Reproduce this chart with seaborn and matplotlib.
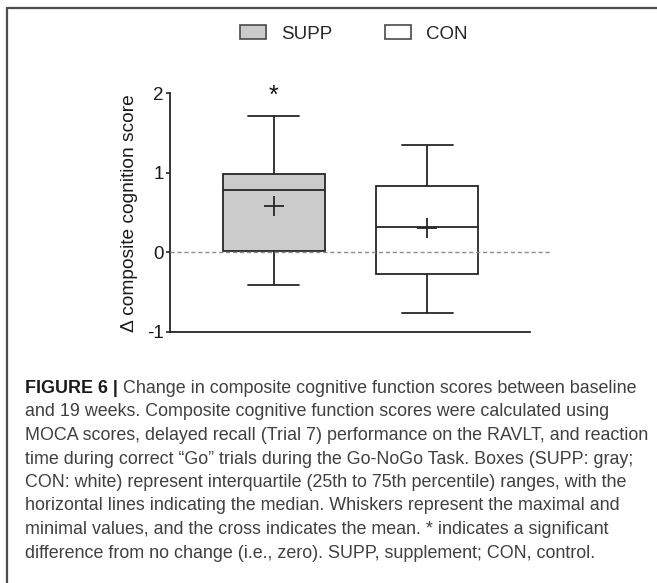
import matplotlib
matplotlib.use("Agg")
import matplotlib.pyplot as plt
from matplotlib.lines import Line2D
from matplotlib.patches import Patch
import numpy as np
import pandas as pd
import seaborn as sns

# ---- data ----
groups = ["SUPP", "CON"]
mins = [-0.41, -0.76]
q1s = [0.02, -0.27]
medians = [0.78, 0.32]
q3s = [0.99, 0.83]
maxs = [1.71, 1.35]
means = [0.585, 0.31]
sig_marks = ["*", ""]
box_colors = ["#cbcbcb", "#ffffff"]
yticks = [-1, 0, 1, 2]
ylabel = "Δ composite cognition score"
caption_bold = "FIGURE 6 |"
caption_lines = [
    " Change in composite cognitive function scores between baseline",
    "and 19 weeks. Composite cognitive function scores were calculated using",
    "MOCA scores, delayed recall (Trial 7) performance on the RAVLT, and reaction",
    "time during correct \u201cGo\u201d trials during the Go-NoGo Task. Boxes (SUPP: gray;",
    "CON: white) represent interquartile (25th to 75th percentile) ranges, with the",
    "horizontal lines indicating the median. Whiskers represent the maximal and",
    "minimal values, and the cross indicates the mean. * indicates a significant",
    "difference from no change (i.e., zero). SUPP, supplement; CON, control.",
]

sns.set_style("ticks")
plt.rcParams["font.family"] = ["Liberation Sans", "DejaVu Sans"]

W, H = 657, 583
fig = plt.figure(figsize=(W / 100, H / 100), dpi=100)

# five-number summary per group -> data whose quartiles reproduce it
rows = []
for g, a, b, c, d, e in zip(groups, mins, q1s, medians, q3s, maxs):
    for v in (a, b, c, d, e):
        rows.append({"group": g, "value": v})
df = pd.DataFrame(rows)
mean_df = pd.DataFrame({"group": groups, "mean": means})

ax = fig.add_axes([170 / W, (H - 332) / H, 360 / W, (332 - 93.3) / H])
lc = "#262626"
sns.boxplot(data=df, x="group", y="value", hue="group", order=groups,
            hue_order=groups, palette=dict(zip(groups, box_colors)),
            whis=(0, 100), width=0.665, linecolor=lc, linewidth=1.3,
            legend=False, ax=ax, showfliers=False, zorder=2)
sns.pointplot(data=mean_df, x="group", y="mean", order=groups,
              markers="+", linestyles="none", errorbar=None, color=lc,
              markersize=15, markeredgewidth=1.3, ax=ax, zorder=4)

ax.axhline(0, xmin=0, xmax=(549.6 - 170) / 360, color="#8c8c8c", lw=1.0,
           ls=(0, (3, 2)), clip_on=False, zorder=3)

for i, s in enumerate(sig_marks):
    if s:
        ax.text(i, 1.97, s, ha="center", va="center", fontsize=18, color="#111")

ax.set_xlim(-0.675, 1.671)
ax.set_ylim(-1, 2)
ax.set_yticks(yticks)
ax.set_yticklabels([str(t) for t in yticks], fontsize=13.5, color="#1a1a1a")
ax.set_xticks([])
ax.set_xlabel("")
ax.set_ylabel(ylabel, fontsize=13.8, color="#1a1a1a")
ax.yaxis.set_label_coords(-0.09, 0.5)
ax.tick_params(axis="y", length=3, width=1.2, pad=1.5, color=lc)
for sp in ("top", "right"):
    ax.spines[sp].set_visible(False)
for sp in ("left", "bottom"):
    ax.spines[sp].set_linewidth(1.3)
    ax.spines[sp].set_color(lc)

# legend
handles = [Patch(facecolor=c, edgecolor="#4a4a4a", linewidth=1.2, label=g)
           for g, c in zip(groups, box_colors)]
fig.legend(handles=handles, loc="center", bbox_to_anchor=(354 / W, 1 - 34 / H),
           ncol=2, frameon=False, fontsize=13.5, handlelength=1.39,
           handleheight=0.73, handletextpad=0.8, columnspacing=2.83)

# frame lines (top and left)
fig.add_artist(Line2D([7 / W, 1], [1 - 8 / H, 1 - 8 / H], color="#4d4d4d", lw=1.6))
fig.add_artist(Line2D([7 / W, 7 / W], [0, 1 - 8 / H], color="#4d4d4d", lw=1.6))

# caption: fit first line between x=25 and x=636 px
x0 = 25 / W
base0 = 393
step = 23.5
fig.canvas.draw()
r = fig.canvas.get_renderer()
t1 = fig.text(0, 0, caption_bold, fontsize=12, fontweight="bold")
t2 = fig.text(0, 0, caption_lines[0], fontsize=12)
wtot = t1.get_window_extent(r).width + t2.get_window_extent(r).width
t1.remove()
t2.remove()
cap_fs = 12 * (636 - 25) / wtot

tb = fig.text(x0, 1 - base0 / H, caption_bold, fontsize=cap_fs, fontweight="bold",
              color="#1a1a1a", va="baseline", ha="left")
bw = tb.get_window_extent(r).width / W
for k, line in enumerate(caption_lines):
    xx = x0 + (bw if k == 0 else 0)
    fig.text(xx, 1 - (base0 + k * step) / H, line, fontsize=cap_fs,
             color="#404040", va="baseline", ha="left")

fig.savefig("out.png", dpi=100)
